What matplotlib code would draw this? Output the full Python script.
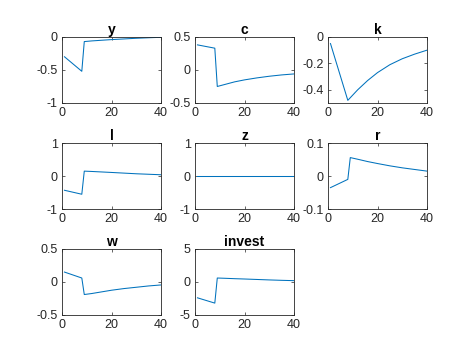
import matplotlib.pyplot as plt

plt.rcParams['font.family'] = ['Liberation Sans', 'DejaVu Sans']

t = [1, 8, 9, 12, 16, 20, 25, 30, 35, 40]

y_vals = [-0.30, -0.52, -0.07, -0.06, -0.05, -0.04, -0.03, -0.02, -0.012, -0.005]
c_vals = [0.38, 0.33, -0.25, -0.22, -0.18, -0.15, -0.12, -0.095, -0.075, -0.06]
k_vals = [-0.05, -0.48, -0.46, -0.40, -0.33, -0.27, -0.21, -0.165, -0.13, -0.10]
l_vals = [-0.43, -0.55, 0.15, 0.14, 0.125, 0.11, 0.09, 0.07, 0.055, 0.04]
z_vals = [0, 0, 0, 0, 0, 0, 0, 0, 0, 0]
r_vals = [-0.035, -0.01, 0.056, 0.051, 0.044, 0.038, 0.031, 0.025, 0.02, 0.015]
w_vals = [0.15, 0.06, -0.19, -0.175, -0.15, -0.125, -0.10, -0.08, -0.06, -0.045]
invest_vals = [-2.4, -3.2, 0.6, 0.56, 0.5, 0.45, 0.38, 0.31, 0.25, 0.2]

titles = ['y', 'c', 'k', 'l', 'z', 'r', 'w', 'invest']
series = [y_vals, c_vals, k_vals, l_vals, z_vals, r_vals, w_vals, invest_vals]
ylims = [(-1, 0), (-0.5, 0.5), (-0.5, 0), (-1, 1), (-1, 1), (-0.1, 0.1), (-0.5, 0.5), (-5, 5)]
yticks = [[-1, -0.5, 0], [-0.5, 0, 0.5], [-0.4, -0.2, 0], [-1, 0, 1], [-1, 0, 1],
          [-0.1, 0, 0.1], [-0.5, 0, 0.5], [-5, 0, 5]]

fig = plt.figure(figsize=(4.74, 3.55), dpi=100)
lefts = [0.1308, 0.4114, 0.692]
bottoms = [0.7099, 0.411, 0.1127]
w, h = 0.2089, 0.186

for i, (name, vals) in enumerate(zip(titles, series)):
    ax = fig.add_axes([lefts[i % 3], bottoms[i // 3], w, h])
    ax.plot(t, vals, color='#0072BD', lw=0.75)
    ax.set_xlim(0, 40)
    ax.set_ylim(*ylims[i])
    ax.set_xticks([0, 20, 40])
    ax.set_yticks(yticks[i])
    ax.set_yticklabels([('%g' % v) for v in yticks[i]])
    ax.set_title(name, fontsize=10, fontweight='bold', pad=2)
    ax.tick_params(direction='in', length=2.5, width=0.5, labelsize=9,
                   colors='#262626', top=True, right=True, pad=3)
    for s in ax.spines.values():
        s.set_color('#262626')
        s.set_linewidth(0.6)

fig.savefig('out.png', dpi=100)
